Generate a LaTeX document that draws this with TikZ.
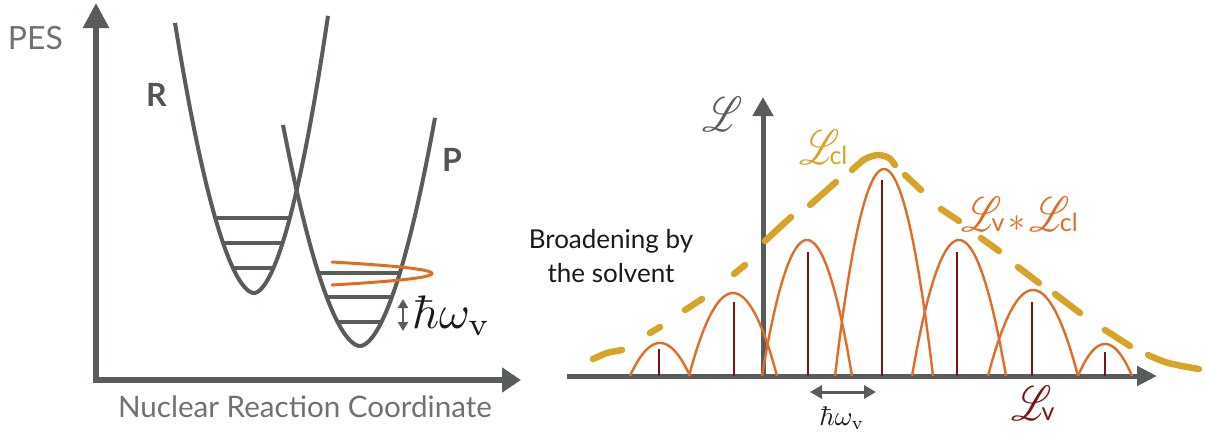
\documentclass[tikz,border=0pt]{standalone}
\usepackage[no-math]{fontspec}
\setmainfont{Lato}
\usepackage{graphicx}
\usepackage{mathrsfs}
\usetikzlibrary{arrows.meta}
\definecolor{axgray}{RGB}{88,93,92}
\definecolor{pesgray}{RGB}{112,114,114}
\definecolor{rpgray}{RGB}{80,84,84}
\definecolor{orng}{RGB}{224,108,40}
\definecolor{gold}{RGB}{214,164,38}
\definecolor{dred}{RGB}{122,20,20}
\definecolor{txt}{RGB}{25,25,25}
\newcommand{\bigL}{{\fontsize{10}{12}\selectfont\scalebox{3.8}[4.9]{$\mathscr{L}$}}}
\newcommand{\bigLx}{\bigL\hspace{-10pt}}
\newcommand{\bigast}{{\fontsize{10}{12}\selectfont\scalebox{3.4}{$\ast$}}}
\tikzset{
  axisline/.style={draw=axgray, line width=5.5pt},
  raxisline/.style={draw=axgray, line width=5pt},
  pescurve/.style={draw=axgray, line width=4pt},
  vlevel/.style={draw=axgray, line width=4pt},
  orloop/.style={draw=orng, line width=3pt, line cap=round},
  peak/.style={draw=orng, line width=2.4pt},
  stick/.style={draw=dred, line width=2.8pt},
  envdash/.style={draw=gold, line width=6.5pt, line cap=round},
  dblarrow/.style={draw=axgray, fill=axgray, line width=2.5pt},
  lbl/.style={inner sep=0pt, outer sep=0pt},
}
\begin{document}
\begin{tikzpicture}[x=1pt,y=-1pt,line join=round]
\useasboundingbox (0,0) rectangle (1205,434);
% ---------------- left panel ----------------
\coordinate (lyb) at (96,380);
\coordinate (lyt) at (96,3);
\coordinate (lxl) at (93,380);
\coordinate (lxr) at (521,380);
\draw[axisline,-{Triangle[width=25pt,length=25pt]}] (lyb) -- (lyt);
\draw[axisline,-{Triangle[width=24pt,length=19pt]}] (lxl) -- (lxr);
% R curve
\draw[pescurve] plot[domain=-79:74, samples=121]
  ({254+\x},{293-(\x<0 ? 0.1037 : 0.1197)*pow(abs(\x)+0.0001,1.8)});
% P curve
\draw[pescurve] plot[domain=-77:75, samples=121]
  ({360+\x},{346-(\x<0 ? 0.0889 : 0.0962)*pow(abs(\x)+0.0001,1.8)});
% vibrational levels
\foreach \yy in {218,243,268}{
  \draw[vlevel] ({254-pow((293-\yy)/0.1037,0.5556)},\yy) -- ({254+pow((293-\yy)/0.1197,0.5556)},\yy);
}
\foreach \yy in {273,297,322}{
  \draw[vlevel] ({360-pow((346-\yy)/0.0889,0.5556)},\yy) -- ({360+pow((346-\yy)/0.0962,0.5556)},\yy);
}
% orange loop
\draw[orloop] plot[domain=-11.5:11.5, samples=41] ({432-0.756*\x*\x},{273.5+\x});
% hbar omega arrow
\coordinate (la1) at (403,299);
\coordinate (la2) at (403,331);
\draw[dblarrow,{Triangle[width=10pt,length=9pt]}-{Triangle[width=10pt,length=9pt]}] (la1) -- (la2);
% labels
\node[lbl, anchor=base west, text=pesgray, font=\fontsize{32}{32}\selectfont] (pes) at (8,49) {PES};
\node[lbl, anchor=base west, text=pesgray, font=\fontsize{29.6}{30}\selectfont] (nrc) at (118,417) {Nuclear Reaction Coordinate};
\node[lbl, anchor=base west, text=rpgray, font=\bfseries\fontsize{32}{32}\selectfont] (R) at (146,106) {R};
\node[lbl, anchor=base west, text=rpgray, font=\bfseries\fontsize{32}{32}\selectfont] (P) at (442,171) {P};
\node[lbl, anchor=base west, text=txt] (hw1) at (412,328) {\scalebox{4.7}{$\hbar\omega_{\mathrm{v}}$}};
% ---------------- right panel ----------------
\coordinate (ryb) at (763,376);
\coordinate (ryt) at (763,97);
\coordinate (rxl) at (567,376);
\coordinate (rxr) at (1157,376);
\draw[raxisline,-{Triangle[width=20pt,length=19pt]}] (ryb) -- (ryt);
\draw[raxisline,-{Triangle[width=19pt,length=20pt]}] (rxl) -- (rxr);
% peaks
\foreach \pc/\ph/\pw in {660/33/30, 733/83/44, 807/136/45, 884/207/49, 959/136/47, 1033/86/45, 1105/32/27}{
  \draw[peak] plot[domain=-\pw:\pw, samples=41] ({\pc+\x},{376-\ph*(1-(\x/\pw)^2)});
}
% sticks
\foreach \sx/\st in {659/349, 734/302, 808/252, 882/180, 957/252, 1032/302, 1105/352}{
  \draw[stick] (\sx,376) -- (\sx,\st);
}
% dashed envelope (individual dashes)
\draw[envdash] plot[smooth] coordinates {(593,359) (607,353) (622,350)};
\draw[envdash] (650,333) -- (660,327);
\draw[envdash] (685,310) -- (702,299);
\draw[envdash] (734,274) -- (745,265);
\draw[envdash] (765,241) -- (791,217);
\draw[envdash] (810,205) -- (836,182);
\draw[envdash] plot[smooth] coordinates {(852,170) (865,159) (878,155) (889,158) (895,165)};
\draw[envdash] (905,175) -- (921,190);
\draw[envdash] (941,209) -- (959,221);
\draw[envdash] (981,238) -- (999,251);
\draw[envdash] (1018,267) -- (1039,283);
\draw[envdash] (1055,294) -- (1080,313);
\draw[envdash] (1105,330) -- (1130,346);
\draw[envdash] plot[smooth] coordinates {(1148,355) (1165,362) (1182,366) (1199,369)};
% hbar omega arrow right
\coordinate (ra1) at (810,392);
\coordinate (ra2) at (876,392);
\draw[dblarrow,line width=3pt,{Triangle[width=13pt,length=12pt]}-{Triangle[width=13pt,length=12pt]}] (ra1) -- (ra2);
% labels
\node[lbl, anchor=base, text=txt, font=\fontsize{26}{26}\selectfont] (br1) at (611,248) {Broadening by};
\node[lbl, anchor=base, text=txt, font=\fontsize{26}{26}\selectfont] (br2) at (611,282) {the solvent};
\node[lbl, anchor=base west, text=axgray] (Lax) at (702,131) {\bigL};
\node[lbl, anchor=base west, text=gold, font=\fontsize{25}{25}\selectfont] (Lcl) at (799,164) {\bigLx cl};
\node[lbl, anchor=base west, text=orng, font=\fontsize{25}{25}\selectfont] (Lvcl) at (961,231) {\bigLx v\hspace{4pt}\bigast\hspace{4pt}\bigLx cl};
\node[lbl, anchor=base west, text=dred, font=\fontsize{25}{25}\selectfont] (Lv) at (1011,420) {\bigLx v};
\node[lbl, anchor=base, text=txt] (hw2) at (842,425) {\scalebox{2.7}{$\hbar\omega_{\mathrm{v}}$}};
\end{tikzpicture}
\end{document}
